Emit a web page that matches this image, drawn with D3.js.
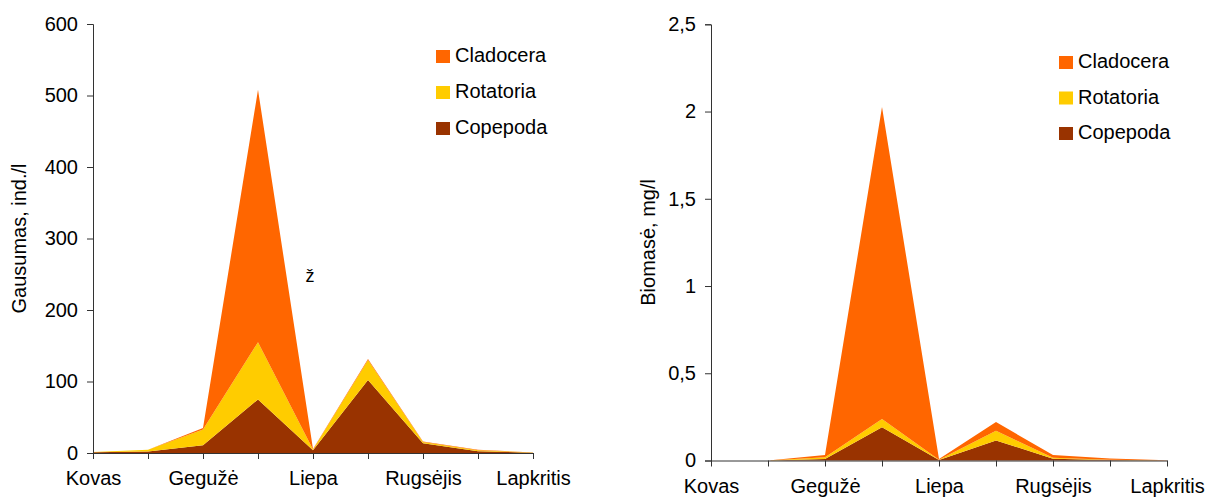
<!DOCTYPE html>
<html>
<head>
<meta charset="utf-8">
<script src="https://cdn.jsdelivr.net/npm/d3@7"></script>
<style>
  html, body { margin: 0; padding: 0; background: #fff; }
  svg { display: block; font-family: "Liberation Sans", Arial, sans-serif; }
</style>
</head>
<body>
<svg id="chart" width="1212" height="499"></svg>
<script>
// ---- data ----
const months = ["Kovas", "Balandis", "Gegužė", "Birželis", "Liepa", "Rugpjūtis", "Rugsėjis", "Spalis", "Lapkritis"];
const shownMonths = ["Kovas", "Gegužė", "Liepa", "Rugsėjis", "Lapkritis"];
const seriesNames = ["Copepoda", "Rotatoria", "Cladocera"];
const legendOrder = ["Cladocera", "Rotatoria", "Copepoda"];

// Gausumas, ind./l
const abundCopepoda  = [1, 2, 11, 75, 4, 102, 13.5, 2.5, 0.5];
const abundRotatoria = [0.5, 2.5, 22, 80, 1, 28, 2, 1.5, 0.3];
const abundCladocera = [0, 0, 2, 353, 0.5, 1.5, 0.5, 0.5, 0];

// Biomasė, mg/l
const bioCopepoda  = [0, 0, 0.009, 0.19, 0.003, 0.115, 0.01, 0.003, 0];
const bioRotatoria = [0, 0, 0.009, 0.048, 0.002, 0.055, 0.006, 0.002, 0];
const bioCladocera = [0, 0, 0.013, 1.788, 0.003, 0.05, 0.015, 0.006, 0.001];

const abundTicks = [0, 100, 200, 300, 400, 500, 600];
const bioTicks = [0, 0.5, 1, 1.5, 2, 2.5];
const bioTickLabels = ["0", "0,5", "1", "1,5", "2", "2,5"];

const colors = { Cladocera: "#FF6600", Rotatoria: "#FFCC00", Copepoda: "#993300" };

// ---- drawing ----
const svg = d3.select("#chart");

function drawChart(cfg) {
  const rows = months.map((m, i) => ({
    month: m,
    Copepoda: cfg.cop[i],
    Rotatoria: cfg.rot[i],
    Cladocera: cfg.clad[i]
  }));
  const stacked = d3.stack().keys(seriesNames)(rows);

  const x = d3.scalePoint().domain(months).range([cfg.x0, cfg.x1]);
  const y = d3.scaleLinear().domain(cfg.yDomain).range([cfg.yBottom, cfg.yTop]);

  const area = d3.area()
    .x(d => x(d.data.month))
    .y0(d => y(d[0]))
    .y1(d => y(d[1]));

  const g = svg.append("g");

  g.selectAll("path.area")
    .data(stacked)
    .join("path")
    .attr("class", "area")
    .attr("fill", d => colors[d.key])
    .attr("d", area);

  // y axis
  const yAxis = d3.axisLeft(y)
    .tickValues(cfg.ticks)
    .tickSize(6)
    .tickPadding(9)
    .tickFormat((d, i) => cfg.tickLabels[i]);
  const ya = g.append("g")
    .attr("transform", `translate(${cfg.x0},0)`)
    .call(yAxis);
  ya.select(".domain").attr("stroke", "#333").attr("stroke-width", 1);
  ya.selectAll(".tick line").attr("stroke", "#333");
  ya.selectAll(".tick text").attr("fill", "#000").style("font-size", "20px");

  // x axis
  const xAxis = d3.axisBottom(x)
    .tickSize(6)
    .tickPadding(12)
    .tickSizeOuter(0)
    .tickFormat(d => shownMonths.includes(d) ? d : "");
  const xa = g.append("g")
    .attr("transform", `translate(0,${cfg.yBottom})`)
    .call(xAxis);
  xa.select(".domain").attr("stroke", "#333").attr("stroke-width", 1);
  xa.selectAll(".tick line").attr("stroke", "#333");
  xa.selectAll(".tick text").attr("fill", "#000").style("font-size", "20px");

  // y axis title
  g.append("text")
    .attr("transform", `translate(${cfg.titleX},${(cfg.yTop + cfg.yBottom) / 2}) rotate(-90)`)
    .attr("text-anchor", "middle")
    .attr("dy", "0.35em")
    .style("font-size", "20px")
    .attr("fill", "#000")
    .text(cfg.title);

  // legend
  const lg = g.append("g");
  legendOrder.forEach((name, i) => {
    const cy = cfg.legendY + i * cfg.legendStep;
    lg.append("rect")
      .attr("x", cfg.legendX)
      .attr("y", cy - 7)
      .attr("width", 14)
      .attr("height", 13)
      .attr("fill", colors[name]);
    lg.append("text")
      .attr("x", cfg.legendX + 19)
      .attr("y", cy - 2)
      .attr("dy", "0.35em")
      .style("font-size", "20px")
      .attr("fill", "#000")
      .text(name);
  });
}

drawChart({
  cop: abundCopepoda, rot: abundRotatoria, clad: abundCladocera,
  x0: 93, x1: 533, yTop: 24, yBottom: 453,
  yDomain: [0, 600], ticks: abundTicks, tickLabels: abundTicks.map(String),
  title: "Gausumas, ind./l", titleX: 19,
  legendX: 436, legendY: 57, legendStep: 36
});

drawChart({
  cop: bioCopepoda, rot: bioRotatoria, clad: bioCladocera,
  x0: 711, x1: 1167, yTop: 24.3, yBottom: 460.5,
  yDomain: [0, 2.5], ticks: bioTicks, tickLabels: bioTickLabels,
  title: "Biomasė, mg/l", titleX: 648,
  legendX: 1059, legendY: 63, legendStep: 35.5
});

// stray glyph present in the original chart
svg.append("text")
  .attr("x", 310)
  .attr("y", 282)
  .attr("text-anchor", "middle")
  .style("font-size", "18px")
  .attr("fill", "#000")
  .text("ž");
</script>
</body>
</html>
